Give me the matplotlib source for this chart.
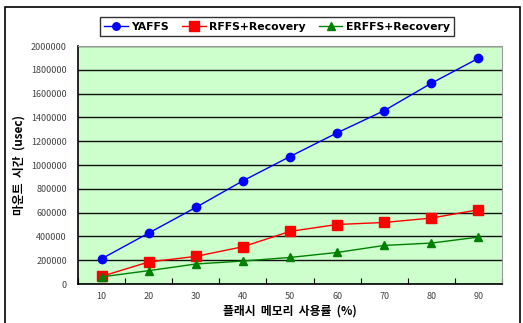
import numpy as np
import matplotlib.pyplot as plt
from matplotlib.patches import Rectangle

plt.rcParams['font.family'] = ['Noto Sans CJK KR', 'DejaVu Sans']

# 데이터
usage = ['10', '20', '30', '40', '50', '60', '70', '80', '90']
yaffs = [212000, 428000, 643000, 867000, 1071000, 1270000, 1457000, 1687000, 1897000]
rffs = [64000, 185000, 232000, 313000, 442000, 500000, 517000, 554000, 624000]
erffs = [60000, 112000, 168000, 193000, 223000, 265000, 324000, 344000, 394000]

fig = plt.figure(figsize=(5.23, 3.23), dpi=100)
W, H = 523, 323
ax = fig.add_axes([78 / W, 1 - 284 / H, (502 - 78) / W, (284 - 46) / H])

# 바깥 테두리
fig.patches.append(Rectangle((5 / W, -0.1), (520 - 5) / W, 1 - 7 / H + 0.1,
                             transform=fig.transFigure, fill=False,
                             edgecolor='black', linewidth=1.2))

x = np.arange(len(usage)) + 0.5
ax.set_facecolor('#CCFFCC')
ax.plot(x, yaffs, '-o', color='#0000FF', lw=1, ms=6, label='YAFFS')
ax.plot(x, rffs, '-s', color='#FF0000', lw=1, ms=7.3, label='RFFS+Recovery')
ax.plot(x, erffs, '-^', color='#008000', lw=1, ms=6, label='ERFFS+Recovery')

ax.set_xlim(0, len(usage))
ax.set_ylim(0, 2000000)
ax.set_yticks(np.arange(0, 2000001, 200000))
ax.set_yticklabels([str(v) for v in range(0, 2000001, 200000)])
ax.yaxis.grid(True, color='#111111', lw=1)
ax.set_axisbelow(True)

ax.set_xticks(np.arange(len(usage) + 1))
ax.set_xticklabels([])
ax.set_xticks(x, minor=True)
ax.set_xticklabels(usage, minor=True)
ax.tick_params(axis='x', which='major', length=4, direction='in', color='black')
ax.tick_params(axis='x', which='minor', length=0, pad=6, labelsize=6.5, labelcolor='#444444')
ax.tick_params(axis='y', length=0, pad=8, labelsize=6.5, labelcolor='#444444')

for s in ['top', 'right']:
    ax.spines[s].set_color('#999999')
for s in ['left', 'bottom']:
    ax.spines[s].set_color('black')
    ax.spines[s].set_linewidth(1.2)

ax.set_xlabel('플래시  메모리  사용률  (%)', fontsize=8.5, fontweight='bold', labelpad=2)
ax.set_ylabel('마운트  시간  (usec)', fontsize=8.5, fontweight='bold', labelpad=4)

leg = fig.legend(loc='center', bbox_to_anchor=(277 / W, 1 - 26.5 / H), ncol=3,
                 frameon=True, fancybox=False, edgecolor='black',
                 prop={'size': 7.8, 'weight': 'bold', 'family': ['DejaVu Sans']},
                 handlelength=2.2, columnspacing=1.2, handletextpad=0.3,
                 borderpad=0.4, markerscale=0.9)
leg.get_frame().set_linewidth(1)

fig.savefig('out.png', dpi=100)
